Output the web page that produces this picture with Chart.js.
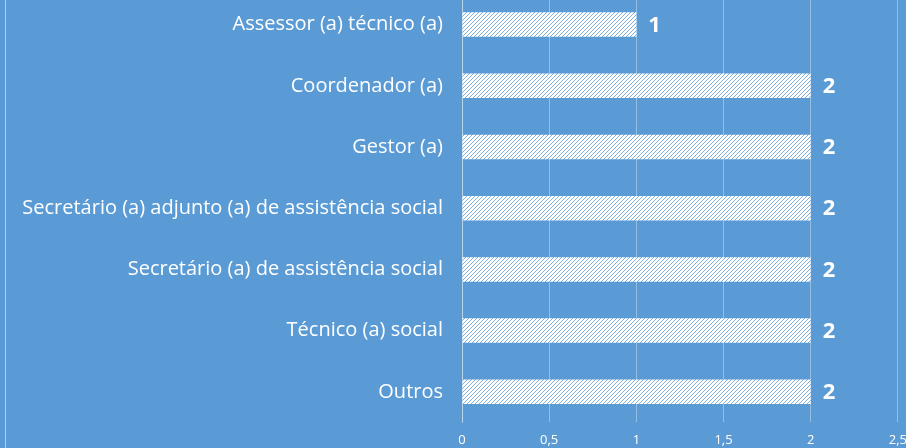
<!DOCTYPE html>
<html lang="pt">
<head>
  <meta charset="UTF-8" />
  <title>Cargos</title>
  <script src="https://cdn.jsdelivr.net/npm/chart.js"></script>
  <style>
    html, body { margin: 0; padding: 0; background: #5b9bd5; overflow: hidden; }
    #wrap { position: absolute; left: 0; top: -29px; width: 917px; height: 487px; }
    #borda { position: absolute; left: 5px; top: 0; width: 1px; height: 448px; background: #b9cde2; }
  </style>
</head>
<body>
<div id="borda"></div>
<div id="wrap"><canvas id="grafico"></canvas></div>

<script>
const cargos = [
  'Assessor (a) técnico (a)',
  'Coordenador (a)',
  'Gestor (a)',
  'Secretário (a) adjunto (a) de assistência social',
  'Secretário (a) de assistência social',
  'Técnico (a) social',
  'Outros'
];
const quantidades = [1, 2, 2, 2, 2, 2, 2];
const ticksX = [0, 0.5, 1, 1.5, 2, 2.5];

// hachura diagonal branca
function criarHachura() {
  const c = document.createElement('canvas');
  c.width = 4; c.height = 4;
  const g = c.getContext('2d');
  g.fillStyle = '#ffffff';
  g.fillRect(0, 0, 4, 4);
  g.fillStyle = '#7fb0df';
  for (let i = 0; i < 4; i++) g.fillRect(i, 3 - i, 1, 1);
  return g.createPattern(c, 'repeat');
}

const rotulos = {
  id: 'rotulos',
  afterDatasetsDraw(chart) {
    const ctx = chart.ctx;
    ctx.save();
    ctx.fillStyle = '#ffffff';
    ctx.font = 'bold 22px "Open Sans", sans-serif';
    ctx.textAlign = 'left';
    ctx.textBaseline = 'middle';
    chart.getDatasetMeta(0).data.forEach((bar, i) => {
      ctx.fillText(String(quantidades[i]), bar.x + 12, bar.y + 1);
    });
    ctx.restore();
  }
};

new Chart(document.getElementById('grafico'), {
  type: 'bar',
  data: {
    labels: cargos,
    datasets: [{
      data: quantidades,
      backgroundColor: criarHachura(),
      borderWidth: 0,
      barPercentage: 0.4,
      categoryPercentage: 1
    }]
  },
  options: {
    indexAxis: 'y',
    responsive: true,
    maintainAspectRatio: false,
    animation: false,
    layout: { padding: 0 },
    plugins: { legend: { display: false }, tooltip: { enabled: false } },
    scales: {
      x: {
        min: 0, max: 2.5,
        afterBuildTicks: s => { s.ticks = ticksX.map(v => ({ value: v })); },
        ticks: {
          color: '#ffffff',
          font: { family: '"Open Sans", sans-serif', size: 13 },
          padding: 10,
          callback: v => String(v).replace('.', ',')
        },
        grid: { color: 'rgba(255,255,255,0.35)', tickLength: 0, drawTicks: false },
        border: { display: false }
      },
      y: {
        afterFit: s => { s.width = 462; },
        ticks: {
          color: '#ffffff',
          font: { family: '"Open Sans", sans-serif', size: 20 },
          padding: 11
        },
        grid: { display: false },
        border: { color: 'rgba(255,255,255,0.35)' }
      }
    }
  },
  plugins: [rotulos]
});
</script>
</body>
</html>
